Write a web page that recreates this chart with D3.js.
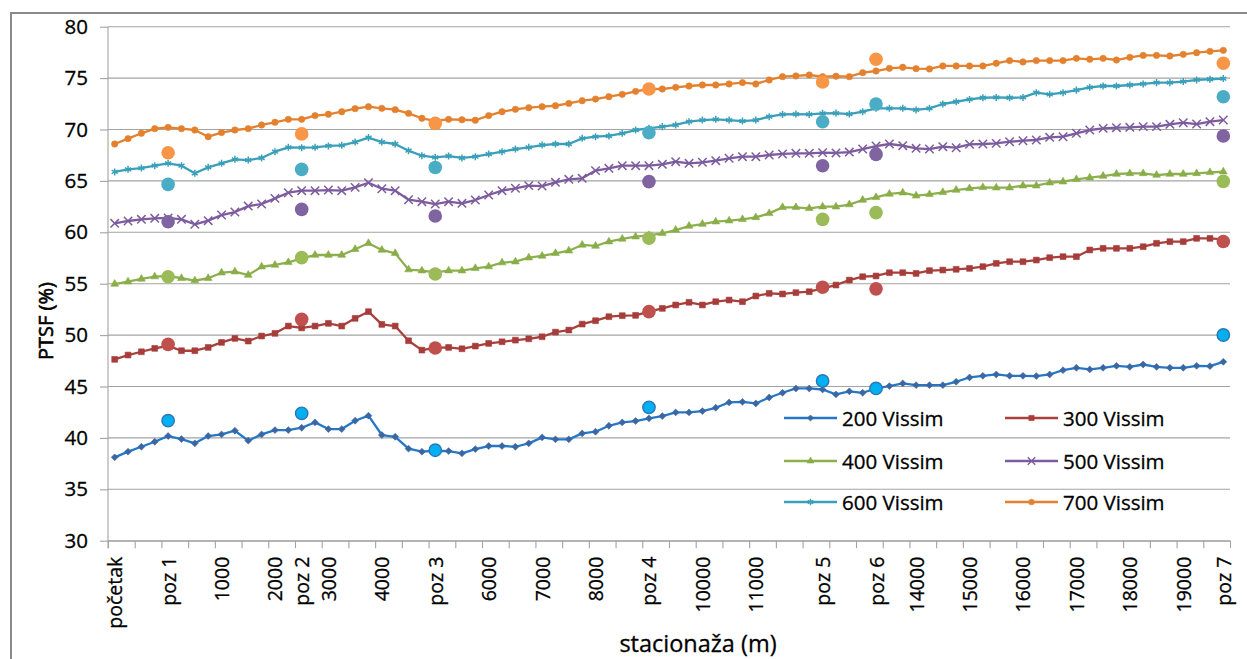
<!DOCTYPE html>
<html>
<head>
<meta charset="utf-8">
<script src="https://cdn.jsdelivr.net/npm/d3@7"></script>
<style>
  html, body { margin: 0; padding: 0; background: #fff; }
  svg { display: block; }
  text { font-family: "Open Sans", "Noto Sans", sans-serif; fill: #000; stroke: #000; stroke-width: 0.3px; }
</style>
</head>
<body>
<svg id="chart" width="1247" height="659"></svg>
<script>
// Stationing categories along the route (empty = unlabelled point)
const categories = [
  "početak","","","","poz 1","","","","1000","",
  "","","2000","","poz 2","","3000","","","",
  "4000","","","","poz 3","","","","6000","",
  "","","7000","","","","8000","","","",
  "poz 4","","","","10000","","","","11000","",
  "","","","poz 5","","","","poz 6","","",
  "14000","","","","15000","","","","16000","",
  "","","17000","","","","18000","","","",
  "19000","","","poz 7"
];

// Simulated PTSF (%) per flow level
const vissim200 = [
  38.11,38.66,39.14,39.63,40.18,39.89,39.47,40.18,40.34,40.70,
  39.73,40.34,40.76,40.76,40.99,41.51,40.86,40.86,41.67,42.16,
  40.28,40.11,38.95,38.66,38.75,38.72,38.50,38.91,39.21,39.21,
  39.14,39.47,40.05,39.86,39.86,40.44,40.60,41.18,41.51,41.64,
  41.90,42.12,42.48,42.48,42.61,42.93,43.45,43.51,43.35,43.93,
  44.39,44.81,44.81,44.71,44.23,44.53,44.39,44.81,45.04,45.30,
  45.13,45.13,45.13,45.46,45.88,46.04,46.17,46.04,46.04,46.01,
  46.17,46.59,46.82,46.66,46.82,47.01,46.91,47.14,46.91,46.82,
  46.82,47.01,46.98,47.40
];
const vissim300 = [
  47.64,48.06,48.38,48.71,48.95,48.48,48.48,48.80,49.29,49.68,
  49.42,49.91,50.17,50.88,50.70,50.88,51.14,50.88,51.63,52.28,
  51.04,50.88,49.45,48.54,48.75,48.80,48.67,48.93,49.19,49.35,
  49.51,49.64,49.84,50.29,50.49,51.07,51.40,51.79,51.89,51.92,
  52.28,52.60,52.93,53.19,52.93,53.25,53.41,53.25,53.80,54.06,
  54.00,54.13,54.22,54.55,54.87,55.35,55.68,55.75,56.07,56.07,
  56.00,56.27,56.33,56.40,56.49,56.66,56.98,57.14,57.14,57.30,
  57.53,57.63,57.63,58.28,58.44,58.44,58.44,58.60,58.93,59.09,
  59.09,59.41,59.41,59.32
];
const vissim400 = [
  54.97,55.20,55.46,55.69,55.75,55.53,55.30,55.53,56.07,56.17,
  55.84,56.65,56.82,57.08,57.47,57.79,57.79,57.79,58.35,58.93,
  58.28,57.96,56.37,56.27,56.10,56.27,56.27,56.50,56.66,57.05,
  57.14,57.53,57.70,57.96,58.21,58.77,58.67,59.09,59.35,59.57,
  59.70,59.90,60.22,60.61,60.80,61.03,61.13,61.26,61.45,61.84,
  62.43,62.43,62.33,62.49,62.49,62.70,63.14,63.40,63.73,63.85,
  63.56,63.69,63.89,64.11,64.27,64.37,64.34,64.34,64.53,64.53,
  64.82,64.92,65.15,65.31,65.47,65.67,65.73,65.73,65.57,65.67,
  65.67,65.73,65.83,65.89
];
const vissim500 = [
  60.87,61.10,61.26,61.36,61.40,61.26,60.78,61.13,61.68,61.97,
  62.55,62.75,63.30,63.85,64.05,64.05,64.11,64.05,64.37,64.82,
  64.24,64.05,63.17,62.98,62.75,62.98,62.82,63.14,63.63,64.05,
  64.28,64.54,64.50,64.86,65.15,65.25,66.00,66.22,66.48,66.48,
  66.48,66.61,66.87,66.71,66.81,66.97,67.20,67.36,67.36,67.52,
  67.62,67.68,67.68,67.75,67.72,67.80,68.10,68.39,68.59,68.43,
  68.17,68.10,68.33,68.23,68.56,68.59,68.65,68.81,68.91,68.98,
  69.24,69.30,69.63,69.95,70.11,70.18,70.21,70.28,70.28,70.50,
  70.66,70.53,70.76,70.92
];
const vissim600 = [
  65.87,66.13,66.25,66.48,66.71,66.48,65.74,66.32,66.71,67.10,
  67.03,67.23,67.84,68.27,68.23,68.27,68.40,68.46,68.78,69.21,
  68.78,68.59,67.94,67.45,67.29,67.42,67.23,67.36,67.61,67.84,
  68.10,68.27,68.49,68.59,68.59,69.14,69.30,69.37,69.63,69.95,
  70.11,70.28,70.44,70.76,70.92,70.99,70.92,70.82,70.92,71.25,
  71.47,71.50,71.47,71.57,71.60,71.50,71.73,72.06,72.06,72.06,
  71.90,72.06,72.48,72.70,72.93,73.09,73.12,73.09,73.12,73.58,
  73.42,73.58,73.83,74.10,74.23,74.23,74.33,74.43,74.56,74.56,
  74.66,74.82,74.89,74.95
];
const vissim700 = [
  68.59,69.11,69.63,70.08,70.21,70.08,69.95,69.30,69.70,69.95,
  70.08,70.44,70.70,70.99,70.99,71.35,71.48,71.73,72.03,72.22,
  72.06,71.93,71.57,71.09,70.85,70.99,70.95,70.90,71.35,71.73,
  71.96,72.12,72.22,72.31,72.54,72.80,72.96,73.19,73.42,73.71,
  73.94,73.94,74.10,74.23,74.33,74.33,74.43,74.56,74.43,74.82,
  75.14,75.21,75.30,75.14,75.18,75.14,75.53,75.69,75.95,76.05,
  75.92,75.89,76.18,76.18,76.18,76.18,76.44,76.70,76.57,76.70,
  76.70,76.70,76.92,76.83,76.92,76.76,77.02,77.21,77.21,77.15,
  77.31,77.47,77.60,77.70
];

// Values at the counting positions (poz 1 .. poz 7)
const pozLabels = ["poz 1","poz 2","poz 3","poz 4","poz 5","poz 6","poz 7"];
const poz200 = [41.68,42.39,38.80,42.97,45.54,44.81,50.01];
const poz300 = [49.10,51.53,48.75,52.28,54.65,54.50,59.10];
const poz400 = [55.68,57.54,55.94,59.42,61.26,61.91,64.95];
const poz500 = [61.03,62.23,61.59,64.93,66.48,67.58,69.37];
const poz600 = [64.66,66.12,66.31,69.69,70.76,72.48,73.19];
const poz700 = [67.74,69.57,70.60,73.94,74.62,76.83,76.44];

const seriesNames = ["200 Vissim","300 Vissim","400 Vissim","500 Vissim","600 Vissim","700 Vissim"];
const yTickValues = [30,35,40,45,50,55,60,65,70,75,80];

// ---- styling per series ----
const styles = [
  {line:"#2478c8", mark:"#3a66a3", dot:"#00b0f0", dotStroke:"#2e75b6", sym:d3.symbolDiamond2 || d3.symbolDiamond, size:30, fill:true},
  {line:"#a8403c", mark:"#a63d3a", dot:"#c0504d", dotStroke:null, sym:d3.symbolSquare, size:34, fill:true},
  {line:"#8db04d", mark:"#89ad48", dot:"#9bbb59", dotStroke:null, sym:d3.symbolTriangle, size:26, fill:true},
  {line:"#7c5c9e", mark:"#7c5c9e", dot:"#8064a2", dotStroke:null, sym:d3.symbolTimes || d3.symbolCross, size:48, fill:false},
  {line:"#3a9fb9", mark:"#3a9fb9", dot:"#4bacc6", dotStroke:null, sym:d3.symbolAsterisk || d3.symbolCross, size:34, fill:false},
  {line:"#e3812f", mark:"#e3812f", dot:"#f79646", dotStroke:null, sym:d3.symbolCircle, size:32, fill:true}
];
const lineSeries = [vissim200, vissim300, vissim400, vissim500, vissim600, vissim700];
const pozSeries = [poz200, poz300, poz400, poz500, poz600, poz700];

const svg = d3.select("#chart");
const W = 1247, H = 659;
const plot = {left: 108, right: 1230, top: 26.7, bottom: 540.7};

svg.append("rect").attr("width", W).attr("height", H).attr("fill", "#fff");
// chart frame
svg.append("rect")
  .attr("x", 11).attr("y", 13).attr("width", W + 20).attr("height", H + 20)
  .attr("fill", "none").attr("stroke", "#8a8a8a").attr("stroke-width", 2);

const idx = categories.map((_, i) => i);
const x = d3.scalePoint().domain(idx).range([plot.left, plot.right]).padding(0.5);
const xEdge = d3.scaleLinear().domain([0, categories.length]).range([plot.left, plot.right]);
const y = d3.scaleLinear().domain([30, 80]).range([plot.bottom, plot.top]);

// horizontal gridlines
svg.append("g")
  .selectAll("line").data(yTickValues).join("line")
  .attr("x1", plot.left).attr("x2", plot.right)
  .attr("y1", d => y(d)).attr("y2", d => y(d))
  .attr("stroke", "#a3a3a3").attr("stroke-width", 1.1);

// value axis
const yAxis = svg.append("g")
  .attr("transform", `translate(${plot.left},0)`)
  .call(d3.axisLeft(y).tickValues(yTickValues).tickSize(8).tickPadding(12).tickSizeOuter(0));
yAxis.select(".domain").attr("stroke", "#a3a3a3").attr("stroke-width", 1.1)
  .attr("d", `M0,${plot.top}V${plot.bottom + 7.5}`);
yAxis.selectAll(".tick line").attr("stroke", "#a3a3a3").attr("stroke-width", 1.1);
yAxis.selectAll(".tick text").style("font-size", "20.5px").attr("fill", "#000");

// category tick marks (every second category boundary)
const xTicks = svg.append("g")
  .attr("transform", `translate(0,${plot.bottom})`)
  .call(d3.axisBottom(xEdge).tickValues(d3.range(0, categories.length + 1, 2))
    .tickSize(7.5).tickSizeOuter(0).tickFormat(""));
xTicks.select(".domain").attr("stroke", "#a3a3a3").attr("stroke-width", 1.1);
xTicks.selectAll(".tick line").attr("stroke", "#a3a3a3").attr("stroke-width", 1.1);

// category labels, rotated
const xLabels = svg.append("g")
  .attr("transform", `translate(0,${plot.bottom})`)
  .call(d3.axisBottom(x).tickValues(idx.filter(i => categories[i] !== ""))
    .tickSize(0).tickFormat(i => categories[i]));
xLabels.select(".domain").remove();
xLabels.selectAll(".tick text")
  .style("font-size", "19.5px")
  .attr("fill", "#000")
  .attr("text-anchor", "end")
  .attr("transform", "rotate(-90)")
  .attr("x", -16).attr("y", 0).attr("dy", "0.36em");

// axis titles
svg.append("text")
  .attr("transform", "translate(45,321) rotate(-90)")
  .attr("text-anchor", "middle").attr("dominant-baseline", "central")
  .style("font-size", "20px").style("stroke-width", "0.6px").text("PTSF (%)");
svg.append("text")
  .attr("x", 698).attr("y", 643)
  .attr("text-anchor", "middle").attr("dominant-baseline", "central")
  .style("font-size", "23.5px").text("stacionaža (m)");

// simulated lines with markers
const lineGen = d3.line().x((d, i) => x(i)).y(d => y(d));
lineSeries.forEach((vals, s) => {
  const st = styles[s];
  const g = svg.append("g");
  g.append("path").datum(vals).attr("d", lineGen)
    .attr("fill", "none").attr("stroke", st.line).attr("stroke-width", 2.3)
    .attr("stroke-linejoin", "round");
  const sym = d3.symbol().type(st.sym).size(st.size);
  g.selectAll("path.m").data(vals).join("path").attr("class", "m")
    .attr("transform", (d, i) => `translate(${x(i)},${y(d)})`)
    .attr("d", sym)
    .attr("fill", st.fill ? st.mark : "none")
    .attr("stroke", st.mark)
    .attr("stroke-width", st.fill ? 0.6 : 1.5);
});

// values at counting positions
pozSeries.forEach((vals, s) => {
  const st = styles[s];
  svg.append("g").selectAll("circle").data(vals).join("circle")
    .attr("cx", (d, i) => x(categories.indexOf(pozLabels[i])))
    .attr("cy", d => y(d))
    .attr("r", st.dotStroke ? 6.2 : 6.8)
    .attr("fill", st.dot)
    .attr("stroke", st.dotStroke || "none")
    .attr("stroke-width", st.dotStroke ? 1.4 : 0);
});

// legend: two columns, three rows
const legendCols = [784, 1005];
const legendRows = [418, 461, 502];
const legend = svg.append("g");
seriesNames.forEach((name, s) => {
  const st = styles[s];
  const lx = legendCols[s % 2], ly = legendRows[Math.floor(s / 2)];
  const g = legend.append("g").attr("transform", `translate(${lx},${ly})`);
  g.append("line").attr("x1", 0).attr("x2", 53).attr("y1", 0).attr("y2", 0)
    .attr("stroke", st.line).attr("stroke-width", 2.3);
  g.append("path").attr("transform", "translate(26.5,0)")
    .attr("d", d3.symbol().type(st.sym).size(st.size * 0.8))
    .attr("fill", st.fill ? st.mark : "none").attr("stroke", st.mark)
    .attr("stroke-width", st.fill ? 0.6 : 1.4);
  g.append("text").attr("x", 58).attr("y", 0).attr("dominant-baseline", "central")
    .style("font-size", "20.5px").text(name);
});
</script>
</body>
</html>
